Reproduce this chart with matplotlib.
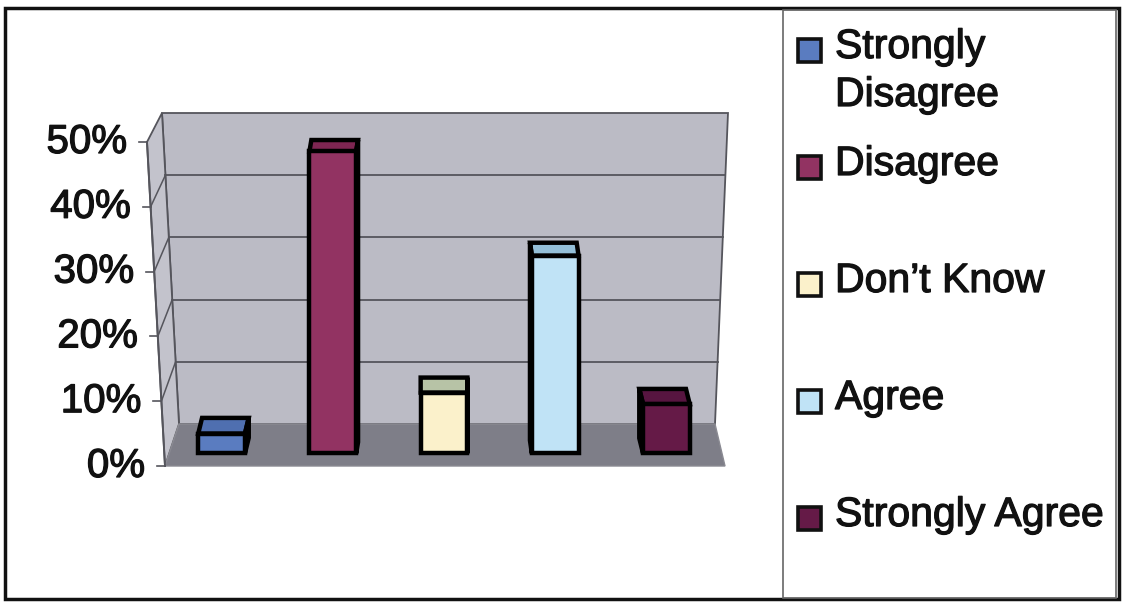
import numpy as np
import matplotlib
matplotlib.use("Agg")
import matplotlib.pyplot as plt
import matplotlib.patheffects as pe
from matplotlib.patches import Polygon, Rectangle

plt.rcParams["font.family"] = ["Liberation Sans", "DejaVu Sans"]

# survey answers, share of respondents in percent
categories = ["Strongly\nDisagree", "Disagree", "Don\u2019t Know", "Agree", "Strongly Agree"]
values = [3.1, 47.2, 9.5, 30.9, 7.7]
yticks = [0, 10, 20, 30, 40, 50]
ytick_labels = ["0%", "10%", "20%", "30%", "40%", "50%"]

front_colors = ["#5a7cc0", "#923362", "#fbf1cb", "#c0e3f6", "#651a47"]
top_colors = ["#4f6fb0", "#7e2652", "#b7c3a6", "#94bfd8", "#571540"]

W, H = 1123, 604
fig = plt.figure(figsize=(W / 100, H / 100), dpi=100)
fig.patch.set_facecolor("white")

# background layer in pixel units (walls, floor, frame, legend)
bg = fig.add_axes([0, 0, 1, 1])
bg.set_xlim(0, W)
bg.set_ylim(H, 0)
bg.axis("off")

# corners of the 3-D box: front / back plane, bottom (0%) / top (50%)
FBL, FBR, FTL, FTR = np.array([165, 466]), np.array([725, 466]), np.array([147, 142]), np.array([743, 142])
BBL, BBR, BTL, BTR = np.array([179, 424]), np.array([715, 424]), np.array([162, 113]), np.array([728, 113])
VMAX = 50.0


def proj(u, v, w):
    t = v / VMAX
    fl = FBL + t * (FTL - FBL)
    fr = FBR + t * (FTR - FBR)
    bl = BBL + t * (BTL - BBL)
    br = BBR + t * (BTR - BBR)
    front = fl + u * (fr - fl)
    back = bl + u * (br - bl)
    return front + w * (back - front)


wall_c = "#bbbbc5"
floor_c = "#7e7e88"
edge_c = "#55555c"
text_c = "#111111"
# scanned print looks a little heavier than plain Arial
heavy = [pe.withStroke(linewidth=0.9, foreground=text_c)]

back = [proj(0, 0, 1), proj(1, 0, 1), proj(1, VMAX, 1), proj(0, VMAX, 1)]
side = [proj(0, 0, 0), proj(0, 0, 1), proj(0, VMAX, 1), proj(0, VMAX, 0)]
floor = [proj(0, 0, 0), proj(1, 0, 0), proj(1, 0, 1), proj(0, 0, 1)]
bg.add_patch(Polygon(back, closed=True, facecolor=wall_c, edgecolor=edge_c, lw=1.3))
bg.add_patch(Polygon(side, closed=True, facecolor="#c3c3cc", edgecolor=edge_c, lw=1.3))
bg.add_patch(Polygon(floor, closed=True, facecolor=floor_c, edgecolor="#8a8a92", lw=1.0))

for v, lab in zip(yticks, ytick_labels):
    if 0 < v < VMAX:
        a, b = proj(0, v, 1), proj(1, v, 1)
        bg.plot([a[0], b[0]], [a[1], b[1]], color=edge_c, lw=1.3)
        c = proj(0, v, 0)
        bg.plot([c[0], a[0]], [c[1], a[1]], color=edge_c, lw=1.1)
    p = proj(0, v, 0)
    bg.plot([p[0] - 8, p[0]], [p[1], p[1]], color=edge_c, lw=1.2)
    bg.text(p[0] - 20, p[1], lab, ha="right", va="center", fontsize=29,
            color=text_c, path_effects=heavy)

a, b = proj(0, 0, 0), proj(0, VMAX, 0)
bg.plot([a[0], b[0]], [a[1], b[1]], color=edge_c, lw=1.4)

# outer frame and legend box
bg.add_patch(Rectangle((5, 8), 1114, 591, fill=False, edgecolor="#111111", lw=2.5))
bg.add_patch(Rectangle((783, 10), 333, 588, fill=False, edgecolor="#666666", lw=1.2))

legend_y = [50, 167, 284, 401, 518]
line_step = 48
for lab, col, y in zip(categories, front_colors, legend_y):
    bg.add_patch(Rectangle((798, y - 11), 23, 23, facecolor=col, edgecolor="#111111", lw=2.6))
    for k, part in enumerate(lab.split("\n")):
        bg.text(835, y + 8 + k * line_step, part, ha="left", va="baseline",
                fontsize=29.5, color=text_c, path_effects=heavy)

# bar layer: x = category index, y = percent (plane of the bar fronts)
BAR_X0, BAR_DX = 444.0, 111.2      # pixel of category 2, pixels per category
BAR_Y0, BAR_DY = 453.4, 6.40       # pixel row of 0%, pixels per percent
ax = fig.add_axes([0, 0, 1, 1])
ax.patch.set_alpha(0)
ax.axis("off")
ax.set_xlim(2 - BAR_X0 / BAR_DX, 2 + (W - BAR_X0) / BAR_DX)
ax.set_ylim((BAR_Y0 - H) / BAR_DY, BAR_Y0 / BAR_DY)

x = np.arange(len(values))
width = 0.42
ax.bar(x, values, width=width, color=front_colors, edgecolor="black", linewidth=3.2, zorder=3)

# top and side faces, going back in depth
for xi, v, tc in zip(x, values, top_colors):
    rise = 0.38 * (42 - 0.26 * v) / BAR_DY
    px = BAR_X0 + (xi - 2) * BAR_DX
    shift = -0.017 * (px - 445) / BAR_DX
    l, r = xi - width / 2, xi + width / 2
    top = [(l, v), (r, v), (r + shift, v + rise), (l + shift, v + rise)]
    ax.add_patch(Polygon(top, closed=True, facecolor=tc, edgecolor="black", lw=3.2, zorder=2))
    edge = r if shift > 0 else l
    sidef = [(edge, 0), (edge, v), (edge + shift, v + rise), (edge + shift, rise)]
    ax.add_patch(Polygon(sidef, closed=True, facecolor=tc, edgecolor="black", lw=3.2, zorder=2))

fig.savefig("out.png", dpi=100)
